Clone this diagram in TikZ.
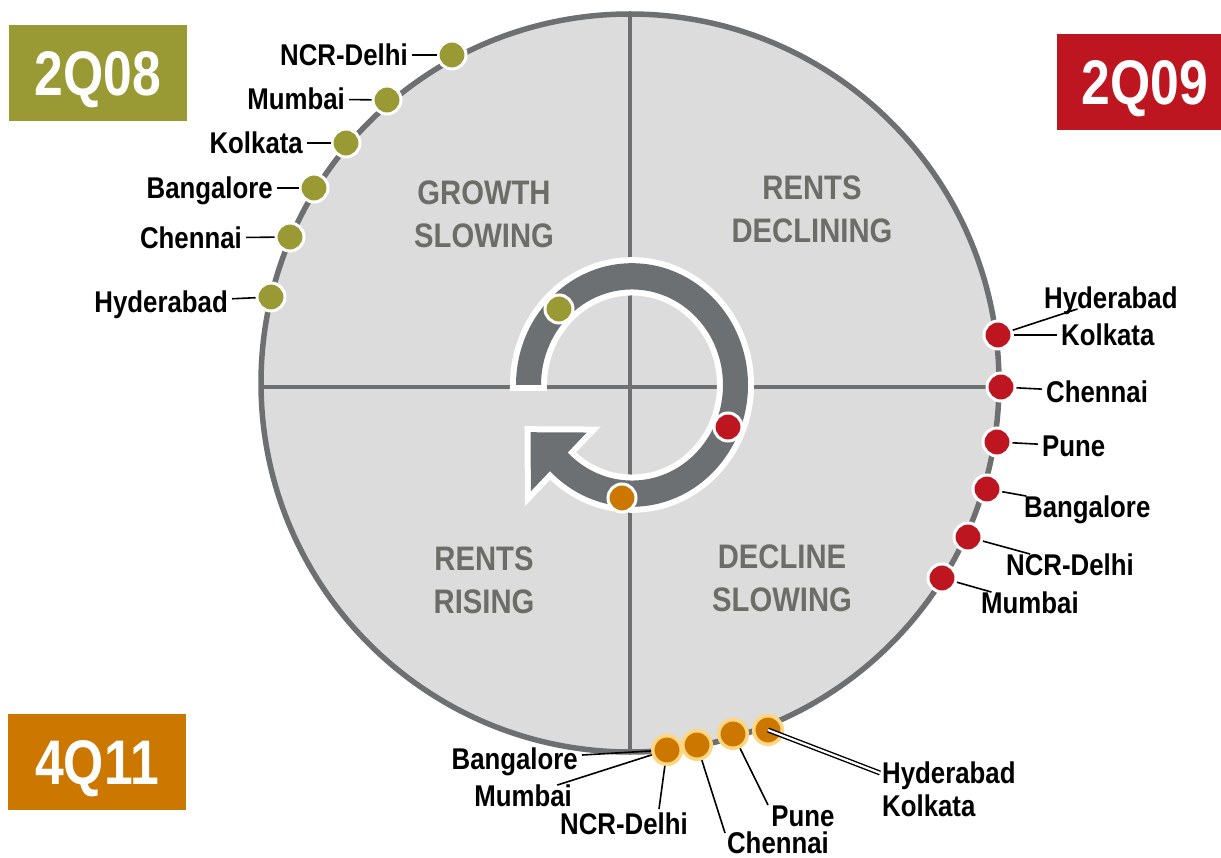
\documentclass[tikz,border=0pt]{standalone}
\usepackage{fontspec}
\newfontfamily\labfont{Liberation Sans}[FakeStretch=0.86]
\newfontfamily\tagfont{Liberation Sans}[FakeStretch=0.82]
\definecolor{cOlive}{RGB}{154,154,52}
\definecolor{cRed}{RGB}{190,22,32}
\definecolor{cOrange}{RGB}{204,119,0}
\definecolor{cPale}{RGB}{255,214,128}
\definecolor{cDisk}{RGB}{220,220,220}
\definecolor{cRim}{RGB}{109,111,113}
\definecolor{cQuad}{RGB}{108,109,104}
\definecolor{cRing}{RGB}{109,112,115}
\begin{document}
\begin{tikzpicture}[x=1pt,y=-1pt,
  lab/.style={font=\labfont\bfseries\fontsize{30}{32}\selectfont, text height=21.5pt, text depth=0pt, inner ysep=0pt, inner xsep=4pt},
  quad/.style={font=\labfont\bfseries\fontsize{34}{43}\selectfont, text=cQuad, align=center},
  tagbox/.style={font=\tagfont\bfseries\fontsize{63}{63}\selectfont, text=white, minimum height=96pt, minimum width=178pt, text height=45pt, text depth=0pt, inner sep=0pt},
  dot/.style={circle, minimum size=28pt, inner sep=0pt, draw=white, line width=3pt},
  odot/.style={circle, minimum size=28.5pt, inner sep=0pt, draw=cPale, line width=3.5pt, fill=cOrange},
  lead/.style={draw=black, line width=1.6pt},
  qline/.style={draw=cRim, line width=3.5pt},
]
\useasboundingbox (0,0) rectangle (1221,858);

% quarter-year tags
\node[tagbox, fill=cOlive] (t08) at (98,73) {2Q08};
\node[tagbox, fill=cRed, minimum width=176pt] (t09) at (1145,82) {2Q09};
\node[tagbox, fill=cOrange] (t11) at (97,762) {4Q11};

% the disk with its four quadrants
\fill[cDisk] (630,383) circle[radius=369];
\begin{scope}
  \clip (630,383) circle[radius=369];
  \draw[qline] (630,0) -- (630,800);
  \draw[qline] (200,387) -- (1100,387);
\end{scope}
\draw[cRim, line width=5.5pt] (630,383) circle[radius=369];

\node[quad] (q1) at (484,214) {GROWTH\\SLOWING};
\node[quad] (q2) at (812,209) {RENTS\\DECLINING};
\node[quad] (q3) at (484,580) {RENTS\\RISING};
\node[quad] (q4) at (782,578) {DECLINE\\SLOWING};

% clockwise arrow in the middle
\begin{scope}[shift={(632,385)}, yscale=1.05]
  \def\arrowpath{(180:116) arc[start angle=180,end angle=495,radius=116] -- (495:143) -- (516.1:111) -- (495:64) -- (495:91) arc[start angle=495,end angle=180,radius=91] -- cycle}
  \path[draw=white, fill=white, line width=12pt] \arrowpath;
  \fill[cRing] \arrowpath;
\end{scope}
\node[dot, fill=cOlive] (ca) at (559,309) {};
\node[dot, fill=cRed] (cb) at (728,427) {};
\node[dot, fill=cOrange] (cc) at (622,498) {};

% 2Q08 markets
\node[lab, anchor=east] (oNCR) at (412,55) {NCR-Delhi};
\node[lab, anchor=east] (oMum) at (349,99) {Mumbai};
\node[lab, anchor=east] (oKol) at (307,143) {Kolkata};
\node[lab, anchor=east] (oBan) at (277,188) {Bangalore};
\node[lab, anchor=east] (oChe) at (246,238) {Chennai};
\node[lab, anchor=east] (oHyd) at (232,302) {Hyderabad};
\node[dot, fill=cOlive] (o1) at (452,55) {};
\node[dot, fill=cOlive] (o2) at (387,100) {};
\node[dot, fill=cOlive] (o3) at (346,143) {};
\node[dot, fill=cOlive] (o4) at (314,188) {};
\node[dot, fill=cOlive] (o5) at (290,237) {};
\node[dot, fill=cOlive] (o6) at (271,297) {};
\draw[lead] (oNCR) -- (o1);
\draw[lead] (oMum) -- (o2);
\draw[lead] (oKol) -- (o3);
\draw[lead] (oBan) -- (o4);
\draw[lead] (oChe) -- (o5);
\draw[lead] (oHyd) -- (o6);

% 2Q09 markets
\node[lab, anchor=west] (rHyd) at (1040,298) {Hyderabad};
\node[lab, anchor=west] (rKol) at (1057,335) {Kolkata};
\node[lab, anchor=west] (rChe) at (1042,392) {Chennai};
\node[lab, anchor=west] (rPun) at (1038,446) {Pune};
\node[lab, anchor=west] (rBan) at (1020,507) {Bangalore};
\node[lab, anchor=west] (rNCR) at (1002,565) {NCR-Delhi};
\node[lab, anchor=west] (rMum) at (977,603) {Mumbai};
\node[dot, fill=cRed] (r1) at (998,335) {};
\node[dot, fill=cRed] (r2) at (1001,387) {};
\node[dot, fill=cRed] (r3) at (997,442) {};
\node[dot, fill=cRed] (r4) at (987,489) {};
\node[dot, fill=cRed] (r5) at (968,537) {};
\node[dot, fill=cRed] (r6) at (942,578) {};
\draw[lead] (r1) -- (rHyd);
\draw[lead] (r1) -- (rKol);
\draw[lead] (r2) -- (rChe);
\draw[lead] (r3) -- (rPun);
\draw[lead] (r4) -- (rBan);
\draw[lead] (r5) -- (rNCR);
\draw[lead] (r6) -- (rMum);

% 4Q11 markets
\node[lab, anchor=east] (dBan) at (582,759) {Bangalore};
\node[lab, anchor=east] (dMum) at (576,796) {Mumbai};
\node[lab] (dNCR) at (624,824) {NCR-Delhi};
\node[lab] (dChe) at (778,843) {Chennai};
\node[lab] (dPun) at (803,816) {Pune};
\node[lab, anchor=west] (dHyd) at (878,773) {Hyderabad};
\node[lab, anchor=west] (dKol) at (878,806) {Kolkata};
\coordinate (eNCR) at (659,809);
\coordinate (eChe) at (725,833);
\coordinate (ePun) at (768,805);
\coordinate (eHK) at (880,773);
\node[odot] (d1) at (667,750) {};
\node[odot] (d2) at (697,745) {};
\node[odot] (d3) at (733,734) {};
\node[odot] (d4) at (768,730) {};
\draw[lead] (dBan) -- (d1);
\draw[lead] (dMum) -- (d1);
\draw[lead] (d1) -- (eNCR);
\draw[lead] (d2) -- (eChe);
\draw[lead] (d3) -- (ePun);
\draw[draw=black, line width=1.4pt, double=white, double distance=2.2pt] (d4.center) -- (eHK);
\end{tikzpicture}
\end{document}
